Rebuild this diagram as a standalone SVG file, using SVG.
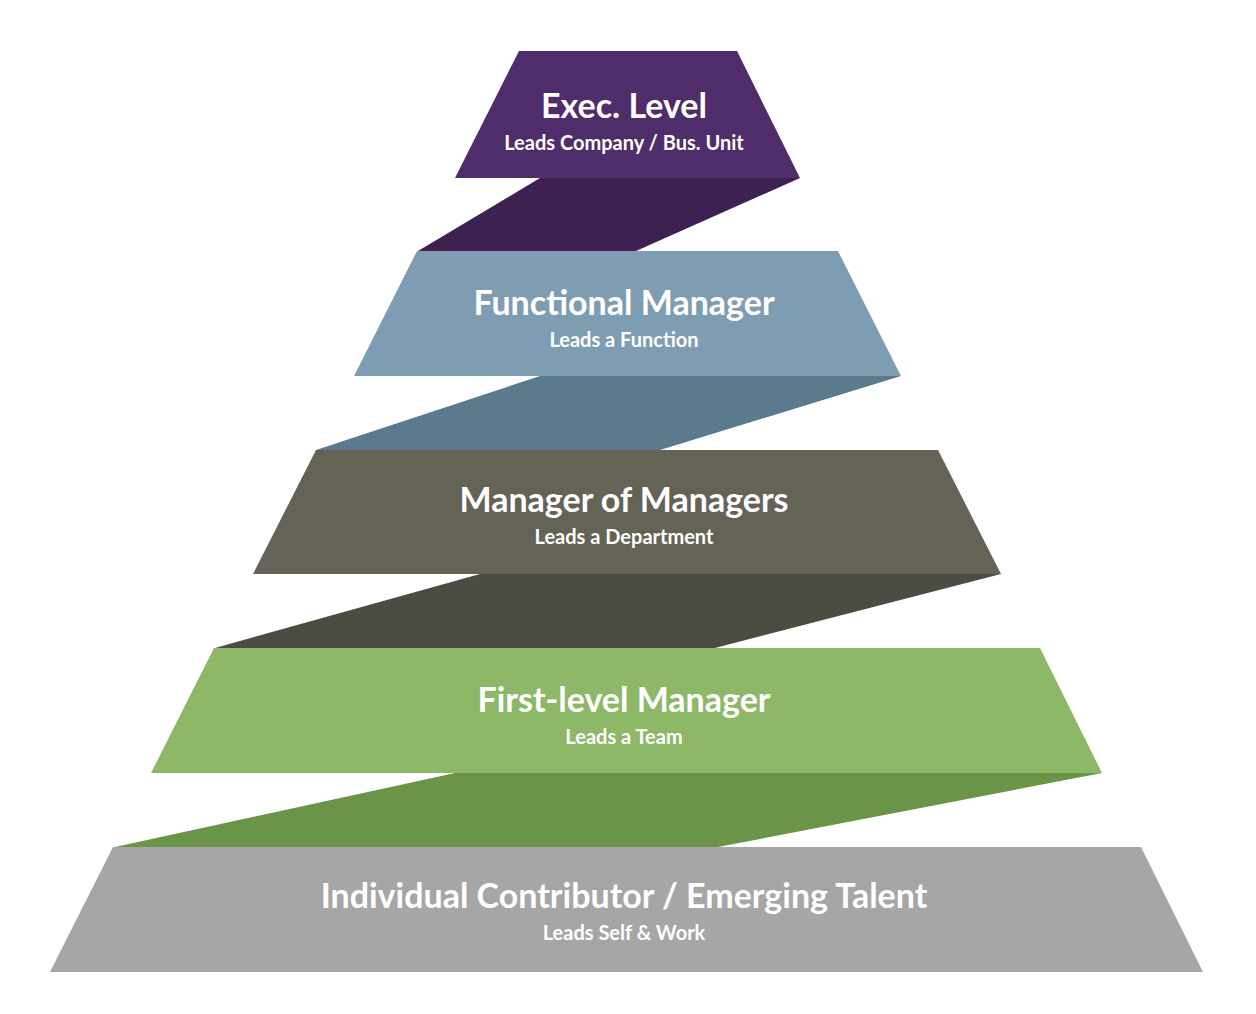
<svg xmlns="http://www.w3.org/2000/svg" width="1256" height="1014" viewBox="0 0 1256 1014">
<style>
.t{font-family:Lato,"Open Sans",sans-serif;font-weight:bold;fill:#fff;text-anchor:middle}
.h{font-size:34px}
.s{font-size:20px}
</style>
<rect width="1256" height="1014" fill="#fff"/>
<g id="connectors">
<polygon points="540,178 800,178 636,251 418,251" fill="#3d2150"/>
<polygon points="540,376 901,376 660,450 316,450" fill="#5b7a8e"/>
<polygon points="480,574 1001,574 715,648 215,648" fill="#4d4c42"/>
<polygon points="455,773 1102,773 718,847 115,847" fill="#6a9548"/>
</g>
<g id="exec">
<polygon points="519,51 737,51 800,178 455,178" fill="#4f2d6a"/>
<text class="t h" x="624" y="118">Exec. Level</text>
<text class="t s" x="624" y="150">Leads Company / Bus. Unit</text>
</g>
<g id="functional">
<polygon points="417,251 838,251 901,376 354,376" fill="#7f9db2"/>
<text class="t h" x="624" y="315">Functional Manager</text>
<text class="t s" x="624" y="347">Leads a Function</text>
</g>
<g id="mom">
<polygon points="316,450 938,450 1001,574 253,574" fill="#646356"/>
<text class="t h" x="624" y="512">Manager of Managers</text>
<text class="t s" x="624" y="544">Leads a Department</text>
</g>
<g id="flm">
<polygon points="214,648 1040,648 1102,773 151,773" fill="#8db868"/>
<text class="t h" x="624" y="712">First-level Manager</text>
<text class="t s" x="624" y="744">Leads a Team</text>
</g>
<g id="ic">
<polygon points="113,847 1141,847 1203,972 50,972" fill="#a6a6a6"/>
<text class="t h" x="624" y="908">Individual Contributor / Emerging Talent</text>
<text class="t s" x="624" y="940">Leads Self &amp; Work</text>
</g>
</svg>
